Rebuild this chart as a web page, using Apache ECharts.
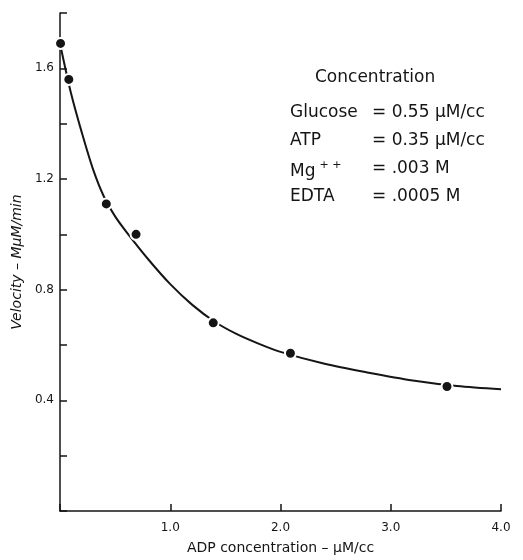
<!DOCTYPE html>
<html>
<head>
<meta charset="utf-8">
<script src="https://cdn.jsdelivr.net/npm/echarts@6/dist/echarts.min.js"></script>
<style>
  html, body { margin: 0; padding: 0; background: #fff; }
  #chart { width: 523px; height: 560px; }
</style>
</head>
<body>
<div id="chart"></div>
<script>
//--------------------- Data ---------------------------//
// measured points (ADP concentration, velocity)
const adpConc = [0.005, 0.08, 0.42, 0.69, 1.39, 2.09, 3.51];
const velocity = [1.69, 1.56, 1.11, 1.00, 0.68, 0.57, 0.45];
// hand-drawn curve
const curveX = [0, 0.1, 0.2, 0.3, 0.4, 0.5, 0.6, 0.8, 1.0, 1.2, 1.4, 1.6, 1.8, 2.0, 2.4, 2.8, 3.2, 3.6, 4.0];
const curveY = [1.69, 1.51, 1.365, 1.235, 1.135, 1.065, 1.01, 0.91, 0.82, 0.745, 0.685, 0.64, 0.605, 0.575, 0.532, 0.50, 0.472, 0.452, 0.44];
// tick labels that are printed
const xTickLabels = ['1.0', '2.0', '3.0', '4.0'];
const yTickLabels = ['0.4', '0.8', '1.2', '1.6'];
// concentration note
const concNames = ['Glucose', 'ATP', 'Mg', 'EDTA'];
const concValues = ['= 0.55 μM/cc', '= 0.35 μM/cc', '= .003 M', '= .0005 M'];

//--------------------- Chart ---------------------------//
const ink = '#151515';
const font = 'DejaVu Sans';
const chart = echarts.init(document.getElementById('chart'));

const noteGraphics = [{
  type: 'text', left: 315, top: 69,
  style: { text: 'Concentration', font: '17px "' + font + '"', fill: ink }
}];
concNames.forEach((name, i) => {
  const top = 104 + i * 28;
  noteGraphics.push({
    type: 'text', left: 290, top: top,
    style: {
      text: name === 'Mg' ? '{b|Mg}{s|+ +}' : '{b|' + name + '}',
      rich: {
        b: { font: '17px "' + font + '"', fill: ink },
        s: { font: '11px "' + font + '"', fill: ink, verticalAlign: 'top', padding: [0, 0, 12, 4] }
      }
    }
  });
  noteGraphics.push({
    type: 'text', left: 372, top: top,
    style: { text: concValues[i], font: '17px "' + font + '"', fill: ink }
  });
});

const option = {
  backgroundColor: '#fff',
  animation: false,
  grid: { left: 60, right: 22, top: 13, bottom: 48 },
  xAxis: {
    type: 'value', min: 0, max: 4, interval: 1,
    name: 'ADP concentration – μM/cc',
    nameLocation: 'middle', nameGap: 30,
    nameTextStyle: { color: ink, fontFamily: font, fontSize: 14 },
    axisLine: { lineStyle: { color: ink, width: 1.5 } },
    axisTick: { inside: true, length: 7, lineStyle: { color: ink, width: 1.5 } },
    axisLabel: {
      color: ink, fontFamily: font, fontSize: 12, margin: 11,
      formatter: v => xTickLabels.find(t => Math.abs(parseFloat(t) - v) < 1e-6) || ''
    },
    splitLine: { show: false }
  },
  yAxis: {
    type: 'value', min: 0, max: 1.8, interval: 0.2,
    name: 'Velocity – MμM/min',
    nameLocation: 'middle', nameGap: 35,
    nameTextStyle: { color: ink, fontFamily: font, fontSize: 14, fontStyle: 'italic' },
    axisLine: { show: true, lineStyle: { color: ink, width: 1.5 } },
    axisTick: { show: true, inside: true, length: 7, lineStyle: { color: ink, width: 1.5 } },
    axisLabel: {
      color: ink, fontFamily: font, fontSize: 12, margin: 6,
      formatter: v => yTickLabels.find(t => Math.abs(parseFloat(t) - v) < 1e-6) || ''
    },
    splitLine: { show: false }
  },
  series: [
    {
      type: 'line', smooth: 0.3, symbol: 'none',
      data: curveX.map((x, i) => [x, curveY[i]]),
      lineStyle: { color: ink, width: 2 },
      z: 2
    },
    {
      type: 'scatter', symbol: 'circle', symbolSize: 11,
      data: adpConc.map((x, i) => [x, velocity[i]]),
      itemStyle: { color: ink, borderColor: '#fff', borderWidth: 2, opacity: 1 },
      z: 3
    }
  ],
  graphic: noteGraphics
};
chart.setOption(option);
</script>
</body>
</html>
